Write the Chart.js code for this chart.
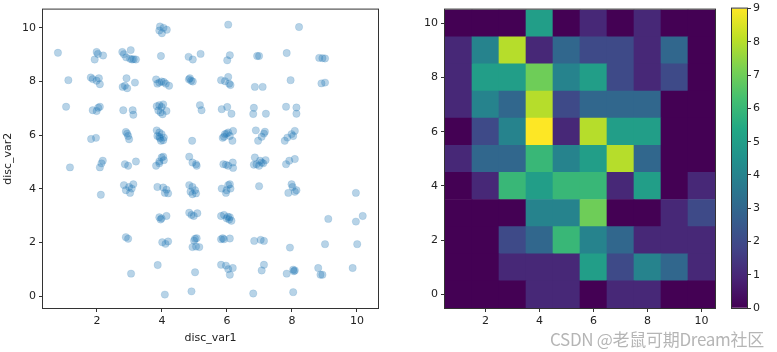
<!DOCTYPE html>
<html>
<head>
<meta charset="utf-8">
<script src="https://cdn.jsdelivr.net/npm/chart.js@4.4.1/dist/chart.umd.min.js"></script>
<style>
  body { margin: 0; width: 777px; height: 352px; background: #fff; position: relative; overflow: hidden; }
  canvas { position: absolute; top: 0; }
  #mark { position: absolute; left: 550px; top: 326px; font: 17px "Noto Sans CJK SC", "DejaVu Sans"; color: rgba(150,150,150,0.7); white-space: nowrap; letter-spacing: -0.3px; }
</style>
</head>
<body>
<canvas id="scatter" width="390" height="352" style="left:0"></canvas>
<canvas id="heat" width="340" height="352" style="left:390px"></canvas>
<canvas id="cbar" width="57" height="352" style="left:720px"></canvas>
<div id="mark">CSDN @老鼠可期Dream社区</div>
<script>
const xTicks = [2, 4, 6, 8, 10];
const yTicks = [0, 2, 4, 6, 8, 10];
const cbTicks = [0, 1, 2, 3, 4, 5, 6, 7, 8, 9];

// jittered points, grouped by disc_var2 row (10 down to 0)
const scatterX = [
  3.94, 4.05, 3.92, 4.0, 4.15, 6.04, 8.22,
  0.80, 1.99, 2.03, 1.93, 2.19, 2.78, 2.83, 3.04, 2.9, 3.02, 3.08, 3.13, 3.2, 3.97, 4.82, 4.95, 5.19, 6.01, 6.09, 6.93, 6.99, 7.84, 8.84, 8.94, 9.02,
  1.12, 1.81, 1.87, 1.99, 2.09, 2.06, 2.79, 2.93, 2.91, 3.17, 2.86, 3.82, 3.86, 3.99, 4.06, 4.12, 4.22, 3.92, 4.83, 4.9, 4.86, 4.95, 5.82, 5.94, 6.04, 6.07, 6.11, 6.86, 7.1, 7.96, 8.91, 9.02,
  1.05, 1.87, 1.99, 2.04, 2.09, 2.81, 3.1, 3.12, 3.84, 3.92, 3.99, 4.04, 3.89, 3.96, 4.02, 4.14, 5.17, 5.22, 5.84, 6.01, 6.14, 6.83, 6.81, 7.2, 7.82, 8.14, 8.14,
  1.82, 1.97, 2.89, 2.93, 2.96, 2.99, 3.84, 3.92, 3.99, 3.86, 3.94, 4.04, 3.97, 3.92, 4.06, 4.93, 5.87, 5.94, 5.99, 6.09, 6.04, 6.19, 6.17, 5.91, 6.89, 7.14, 7.17, 6.96, 7.07, 7.78, 7.86, 7.99, 8.09, 8.04,
  1.17, 2.09, 2.18, 2.14, 2.86, 2.96, 3.2, 3.82, 3.92, 3.99, 4.04, 4.06, 3.92, 4.84, 4.94, 5.05, 5.07, 5.89, 5.97, 6.04, 6.18, 6.19, 6.86, 6.91, 6.99, 7.07, 7.12, 7.19, 7.02, 6.83, 7.82, 7.92, 8.09,
  2.12, 2.83, 2.89, 3.02, 3.07, 3.12, 2.99, 3.86, 4.04, 4.14, 4.09, 4.19, 4.84, 4.94, 4.88, 5.02, 5.05, 4.94, 5.84, 5.97, 6.04, 6.09, 6.11, 5.99, 6.99, 7.89, 7.99, 8.02, 8.09, 8.14, 9.97,
  3.92, 3.99, 3.96, 4.14, 4.84, 4.91, 4.98, 5.09, 5.82, 5.91, 5.99, 6.07, 6.14, 6.09, 6.03, 9.12, 9.97, 10.18,
  2.89, 2.96, 4.01, 4.11, 4.19, 4.94, 5.02, 5.07, 5.05, 5.15, 4.99, 5.82, 5.91, 6.09, 5.87, 6.84, 7.04, 7.14, 7.94, 9.02, 10.01,
  3.05, 3.87, 5.02, 5.82, 5.97, 6.04, 6.18, 6.09, 7.07, 7.14, 7.84, 8.04, 8.09, 8.06, 8.81, 8.88, 8.94, 9.87,
  4.09, 4.91, 6.81, 8.04
];
const scatterY = [
  10.05, 10.0, 9.9, 9.8, 9.93, 10.12, 10.03,
  9.07, 9.1, 9.03, 8.82, 8.97, 9.1, 9.02, 9.17, 8.9, 8.85, 8.82, 8.83, 8.82, 8.95, 8.92, 8.82, 9.03, 8.79, 8.98, 8.95, 8.95, 9.06, 8.88, 8.87, 8.86,
  8.05, 8.15, 8.09, 8.03, 7.9, 8.12, 7.8, 7.75, 8.12, 7.96, 7.84, 8.08, 7.92, 8.0, 7.98, 7.92, 7.84, 7.96, 8.08, 8.03, 8.12, 8.0, 8.05, 8.01, 8.17, 7.92, 7.87, 7.8, 7.8, 8.05, 7.93, 7.96,
  7.06, 6.93, 6.9, 7.02, 7.06, 6.93, 6.93, 6.76, 7.08, 7.12, 7.05, 7.15, 6.92, 6.85, 6.78, 6.9, 7.12, 6.93, 6.97, 7.05, 6.8, 7.02, 6.79, 6.8, 7.06, 7.03, 6.8,
  5.86, 5.9, 6.12, 6.06, 5.97, 5.85, 6.18, 6.1, 6.04, 5.97, 5.89, 5.81, 5.79, 5.94, 5.91, 5.79, 5.9, 6.04, 6.06, 5.97, 6.1, 6.16, 5.79, 5.94, 6.18, 6.06, 6.13, 5.79, 5.94, 5.79, 5.91, 6.04, 6.16, 5.97,
  4.8, 4.8, 5.05, 4.95, 4.92, 4.86, 5.02, 4.86, 5.02, 5.17, 5.2, 5.07, 4.95, 5.2, 4.98, 4.92, 4.86, 4.92, 4.9, 4.86, 4.98, 4.78, 5.17, 4.92, 4.86, 4.98, 4.95, 5.07, 5.05, 4.9, 4.92, 5.05, 5.11,
  3.78, 4.14, 3.95, 3.85, 4.01, 4.17, 4.07, 4.07, 4.05, 3.97, 3.85, 3.83, 4.14, 4.07, 3.89, 3.95, 3.83, 3.8, 4.01, 3.85, 4.14, 4.17, 4.01, 3.95, 4.1, 3.85, 4.17, 4.07, 3.89, 3.95, 3.85,
  2.94, 2.9, 2.86, 2.99, 3.11, 3.03, 2.99, 3.09, 2.99, 3.03, 2.9, 2.86, 2.81, 2.94, 2.96, 2.88, 2.78, 2.99,
  2.2, 2.14, 2.01, 1.95, 2.04, 1.83, 2.14, 2.16, 1.85, 1.83, 2.07, 2.12, 2.12, 2.15, 2.16, 2.06, 2.1, 2.06, 1.81, 1.94, 1.94,
  0.84, 1.16, 0.89, 1.17, 1.14, 1.01, 1.05, 0.8, 0.96, 1.17, 0.84, 0.99, 0.96, 0.93, 1.05, 0.8, 0.8, 1.05,
  0.06, 0.18, 0.1, 0.15
];

// 2d histogram: columns disc_var1 = 1..10, rows disc_var2 = 10..0
const binX = [1, 2, 3, 4, 5, 6, 7, 8, 9, 10];
const binY = [10, 9, 8, 7, 6, 5, 4, 3, 2, 1, 0];
const binCounts = [
  [0, 0, 0, 5, 0, 1, 0, 1, 0, 0],
  [1, 4, 8, 1, 3, 2, 2, 1, 3, 0],
  [1, 5, 5, 7, 4, 5, 2, 1, 2, 0],
  [1, 4, 3, 8, 2, 3, 3, 3, 0, 0],
  [0, 2, 4, 9, 1, 8, 5, 5, 0, 0],
  [1, 3, 3, 6, 4, 5, 8, 3, 0, 0],
  [0, 1, 6, 5, 6, 6, 1, 5, 0, 1],
  [0, 0, 0, 4, 4, 7, 0, 0, 1, 2],
  [0, 0, 2, 3, 6, 4, 3, 1, 1, 1],
  [0, 0, 1, 1, 1, 5, 2, 4, 3, 1],
  [0, 0, 0, 1, 1, 0, 1, 1, 0, 0]
];
const countMax = 9;

const viridisStops = [
  [68, 1, 84], [72, 36, 117], [65, 68, 135], [53, 95, 141], [42, 120, 142], [33, 145, 140],
  [34, 168, 132], [68, 191, 112], [122, 209, 81], [189, 223, 38], [253, 231, 37]
];
function viridis(t) {
  t = Math.max(0, Math.min(1, t)) * (viridisStops.length - 1);
  const i = Math.min(Math.floor(t), viridisStops.length - 2);
  const f = t - i;
  const a = viridisStops[i], b = viridisStops[i + 1];
  const c = a.map((v, k) => Math.round(v + (b[k] - v) * f));
  return `rgb(${c[0]},${c[1]},${c[2]})`;
}

Chart.defaults.font.family = "DejaVu Sans";
Chart.defaults.font.size = 11;
Chart.defaults.color = "#222";

const setTicks = (vals) => (s) => { s.ticks = vals.map(v => ({ value: v })); };
const tickGrid = { display: true, drawOnChartArea: false, drawTicks: true, tickLength: 4, color: "#333" };

const frame = {
  id: "frame",
  afterDraw(chart) {
    const { ctx, chartArea: a } = chart;
    ctx.save();
    ctx.strokeStyle = "#333";
    ctx.lineWidth = 1;
    ctx.strokeRect(a.left - 0.5, a.top - 0.5, a.right - a.left + 1, a.bottom - a.top + 1);
    ctx.restore();
  }
};

const base = {
  responsive: false,
  animation: false,
  devicePixelRatio: 1,
  plugins: { legend: { display: false }, tooltip: { enabled: false } },
  events: []
};

new Chart(document.getElementById("scatter"), {
  type: "scatter",
  data: {
    datasets: [{
      data: scatterX.map((x, i) => ({ x: x, y: scatterY[i] })),
      backgroundColor: "rgba(31,119,180,0.32)",
      borderColor: "rgba(31,119,180,0.22)",
      borderWidth: 0.6,
      pointRadius: 3.7
    }]
  },
  options: {
    ...base,
    layout: { padding: { top: 8, right: 12, left: 0, bottom: 0 } },
    scales: {
      x: {
        type: "linear", min: 0.34, max: 10.65,
        afterBuildTicks: setTicks(xTicks),
        afterFit: s => { s.height = 44; },
        grid: tickGrid, border: { display: false },
        ticks: { padding: 3, maxRotation: 0, autoSkip: false },
        title: { display: true, text: "disc_var1", padding: { top: 0, bottom: 7 } }
      },
      y: {
        type: "linear", min: -0.44, max: 10.68,
        afterBuildTicks: setTicks(yTicks),
        afterFit: s => { s.width = 43; },
        grid: tickGrid, border: { display: false },
        ticks: { padding: 3, autoSkip: false },
        title: { display: true, text: "disc_var2", padding: { top: 2, bottom: 0 } }
      }
    }
  },
  plugins: [frame]
});

const cells = [], cellColors = [];
binY.forEach((yv, r) => {
  binX.forEach((xv, c) => {
    cells.push({ x: xv, y: [yv - 0.5, yv + 0.5] });
    cellColors.push(viridis(binCounts[r][c] / countMax));
  });
});

new Chart(document.getElementById("heat"), {
  type: "bar",
  data: {
    datasets: [{
      data: cells,
      backgroundColor: cellColors,
      borderWidth: 0,
      barPercentage: 1,
      categoryPercentage: 1
    }]
  },
  options: {
    ...base,
    layout: { padding: { top: 8, right: 15, left: 0, bottom: 0 } },
    scales: {
      x: {
        type: "linear", offset: false, min: 0.5, max: 10.5,
        afterBuildTicks: setTicks(xTicks),
        afterFit: s => { s.height = 44; },
        grid: { ...tickGrid, offset: false }, border: { display: false },
        ticks: { padding: 3, maxRotation: 0, autoSkip: false }
      },
      y: {
        type: "linear", min: -0.5, max: 10.5,
        afterBuildTicks: setTicks(yTicks),
        afterFit: s => { s.width = 55; },
        grid: tickGrid, border: { display: false },
        ticks: { padding: 3, autoSkip: false }
      }
    }
  },
  plugins: [frame]
});

new Chart(document.getElementById("cbar"), {
  type: "bar",
  data: {
    labels: ["count"],
    datasets: [{
      data: [[0, countMax]],
      borderWidth: 0,
      barPercentage: 1,
      categoryPercentage: 1,
      backgroundColor: (ctx) => {
        const a = ctx.chart.chartArea;
        if (!a) return viridis(0.5);
        const g = ctx.chart.ctx.createLinearGradient(0, a.bottom, 0, a.top);
        viridisStops.forEach((s, i) => g.addColorStop(i / (viridisStops.length - 1), `rgb(${s[0]},${s[1]},${s[2]})`));
        return g;
      }
    }]
  },
  options: {
    ...base,
    layout: { padding: { top: 8, right: 0, left: 12, bottom: 44 } },
    scales: {
      x: { display: false },
      y: {
        position: "right", min: 0, max: countMax,
        afterBuildTicks: setTicks(cbTicks),
        afterFit: s => { s.width = 30; },
        grid: tickGrid, border: { display: false },
        ticks: { padding: 2, autoSkip: false }
      }
    }
  },
  plugins: [frame]
});
</script>
</body>
</html>
